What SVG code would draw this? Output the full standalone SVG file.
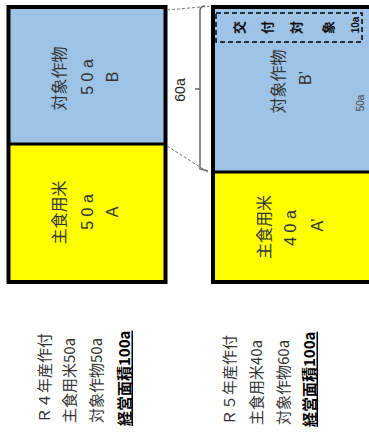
<svg xmlns="http://www.w3.org/2000/svg" width="369" height="432" viewBox="0 0 369 432">
<style>
.blue{fill:#9DC3E6}
.yel{fill:#FFFF00}
.frame{fill:none;stroke:#000;stroke-width:4}
.div{stroke:#000;stroke-width:3}
.jp{font-family:"Noto Sans CJK JP","Noto Sans",sans-serif;font-size:16px;fill:#333}
.lat{font-family:"Liberation Sans",Arial,sans-serif;font-size:16px;fill:#333}
.tag{font-family:"Noto Sans CJK JP",sans-serif;font-size:13px;font-weight:bold;fill:#111}
.small{font-family:"Liberation Sans",Arial,sans-serif;font-size:10px;fill:#444}
.note{font-family:"Noto Sans CJK JP","Noto Sans",sans-serif;font-size:15px;fill:#333}
.noteb{font-family:"Noto Sans CJK JP","Noto Sans",sans-serif;font-size:15px;font-weight:bold;fill:#000;text-decoration:underline}
.dot{fill:none;stroke:#777;stroke-width:1;stroke-dasharray:3 2}
.br{fill:none;stroke:#666;stroke-width:1.5}
text{dominant-baseline:central}
</style>
<g id="r4-box">
<rect class="blue" x="8.5" y="7" width="157" height="137"/>
<rect class="yel" x="8.5" y="144" width="157" height="138"/>
<line class="div" x1="8.5" y1="144" x2="165.5" y2="144"/>
<rect class="frame" x="8.5" y="7" width="157" height="275"/>
<text class="jp" text-anchor="middle" transform="translate(58,78.5) rotate(-90)">対象作物</text>
<text class="lat" text-anchor="middle" transform="translate(87,77) rotate(-90)">5 0 a</text>
<text class="lat" text-anchor="middle" transform="translate(112,77) rotate(-90)">B</text>
<text class="jp" text-anchor="middle" transform="translate(58,212.5) rotate(-90)">主食用米</text>
<text class="lat" text-anchor="middle" transform="translate(87,212) rotate(-90)">5 0 a</text>
<text class="lat" text-anchor="middle" transform="translate(112,212) rotate(-90)">A</text>
</g>
<g id="r5-box">
<rect class="blue" x="213" y="7" width="170" height="165"/>
<rect class="yel" x="213" y="172" width="170" height="110"/>
<line class="div" x1="213" y1="172" x2="369" y2="172"/>
<rect class="frame" x="213" y="7" width="170" height="275"/>
<text class="jp" text-anchor="middle" transform="translate(277,81.5) rotate(-90)">対象作物</text>
<text class="lat" text-anchor="middle" transform="translate(305,78) rotate(-90)">B’</text>
<text class="small" text-anchor="middle" transform="translate(360,103) rotate(-90)">50a</text>
<text class="jp" text-anchor="middle" transform="translate(263,227) rotate(-90)">主食用米</text>
<text class="lat" text-anchor="middle" transform="translate(290,228) rotate(-90)">4 0 a</text>
<text class="lat" text-anchor="middle" transform="translate(317,225) rotate(-90)">A’</text>
</g>
<g id="grant-target">
<rect x="216" y="13" width="146" height="29" fill="none" stroke="#000" stroke-width="1.5" stroke-dasharray="5 3"/>
<text class="tag" text-anchor="middle" transform="translate(238,27.5) rotate(-90)">交</text>
<text class="tag" text-anchor="middle" transform="translate(266,27.5) rotate(-90)">付</text>
<text class="tag" text-anchor="middle" transform="translate(295,27.5) rotate(-90)">対</text>
<text class="tag" text-anchor="middle" transform="translate(327,27.5) rotate(-90)">象</text>
<text class="tag" style="font-size:10px;font-family:'Liberation Sans',Arial,sans-serif" text-anchor="middle" transform="translate(355,25) rotate(-90)">10a</text>
</g>
<g id="connectors">
<line class="dot" x1="167" y1="10" x2="212" y2="6"/>
<line class="dot" x1="167" y1="146" x2="208" y2="172"/>
<path class="br" d="M205,6 Q200,6 200,11 L200,89 L195,89 M200,89 L200,169 L208,171"/>
</g>
<g id="label-60a">
<text class="lat" style="font-size:14px;fill:#222" text-anchor="middle" transform="translate(180,90) rotate(-90)">60a</text>
</g>
<g id="r4-notes">
<text class="note" transform="translate(43,423) rotate(-90)">Ｒ４年産作付</text>
<text class="note" transform="translate(68,423) rotate(-90)">主食用米50a</text>
<text class="note" transform="translate(95,423) rotate(-90)">対象作物50a</text>
<text class="noteb" transform="translate(123,426) rotate(-90)">経営面積100a</text>
</g>
<g id="r5-notes">
<text class="note" transform="translate(228,425) rotate(-90)">Ｒ５年産作付</text>
<text class="note" transform="translate(255,425) rotate(-90)">主食用米40a</text>
<text class="note" transform="translate(282,425) rotate(-90)">対象作物60a</text>
<text class="noteb" transform="translate(308,427) rotate(-90)">経営面積100a</text>
</g>
</svg>
